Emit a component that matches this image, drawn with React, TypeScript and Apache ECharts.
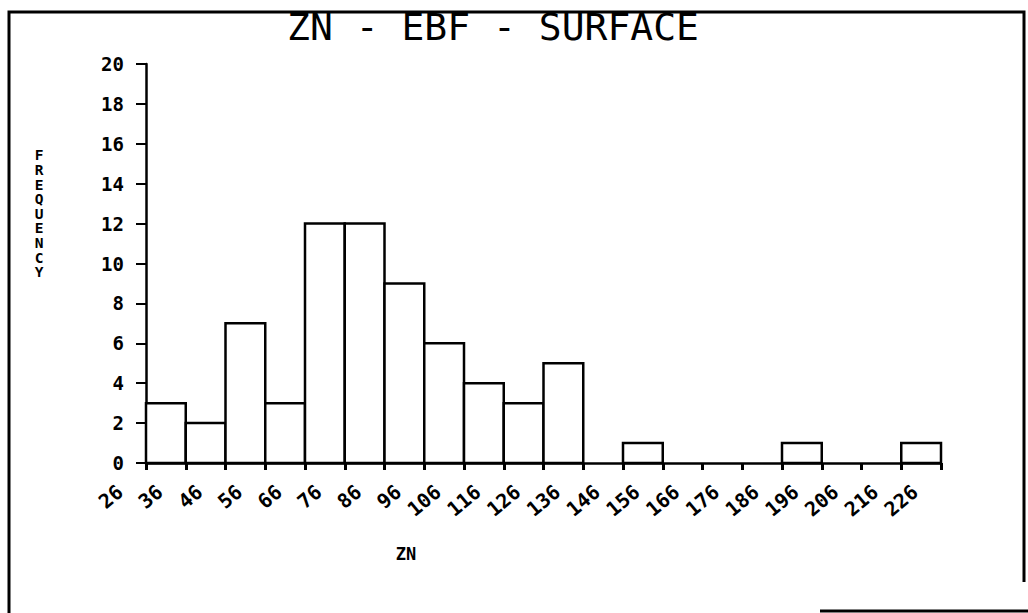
import React, { useEffect, useRef } from "react";
import * as echarts from "echarts";

const titleText = "ZN - EBF - SURFACE";
const yName = "FREQUENCY";
const xName = "ZN";
const binStarts = [26, 36, 46, 56, 66, 76, 86, 96, 106, 116, 126, 136, 146, 156, 166, 176, 186, 196, 206, 216];
const binWidth = 10;
const counts = [3, 2, 7, 3, 12, 12, 9, 6, 4, 3, 5, 0, 1, 0, 0, 0, 1, 0, 0, 1];
const xMin = 26;
const xMax = 226;
const yMax = 20;

const MONO = "'DejaVu Sans Mono', 'Liberation Mono', monospace";

export default function App() {
  const ref = useRef<HTMLDivElement>(null);
  useEffect(() => {
    document.body.style.margin = "0";
    const chart = echarts.init(ref.current!, null, { renderer: "svg" });
    const data = binStarts.map((s, i) => [s, counts[i]]);
    chart.setOption({
      animation: false,
      backgroundColor: "#ffffff",
      title: {
        text: titleText,
        left: 488,
        textAlign: "center",
        top: 3,
        textStyle: { fontFamily: MONO, fontSize: 38, fontWeight: "normal", color: "#000" },
      },
      grid: { left: 146, right: 87, top: 64, bottom: 150, containLabel: false },
      xAxis: {
        type: "value",
        min: xMin,
        max: xMax,
        interval: binWidth,
        splitLine: { show: false },
        axisLine: { show: true, lineStyle: { color: "#000", width: 2.5 } },
        axisTick: { show: true, length: 7, lineStyle: { color: "#000", width: 3 } },
        axisLabel: {
          rotate: 40,
          margin: 4,
          padding: [0, 34, 0, 0],
          fontFamily: MONO,
          fontSize: 20,
          fontWeight: "bold",
          color: "#000",
          showMinLabel: true,
          showMaxLabel: true,
        },
      },
      yAxis: {
        type: "value",
        min: 0,
        max: yMax,
        interval: 2,
        splitLine: { show: false },
        axisLine: { show: true, lineStyle: { color: "#000", width: 2.5 } },
        axisTick: { show: true, length: 10, lineStyle: { color: "#000", width: 2 } },
        axisLabel: {
          margin: 22,
          fontFamily: MONO,
          fontSize: 19,
          fontWeight: "bold",
          color: "#000",
        },
      },
      graphic: [
        {
          type: "polyline",
          shape: { points: [[9, 613], [9, 12], [1024, 12], [1024, 582]] },
          style: { stroke: "#000", lineWidth: 3, fill: "none" },
        },
        {
          type: "line",
          shape: { x1: 820, y1: 611, x2: 1028, y2: 611 },
          style: { stroke: "#000", lineWidth: 3 },
        },
        {
          type: "text",
          x: 39,
          y: 148,
          style: {
            text: yName.split("").join("\n"),
            fontFamily: MONO,
            fontSize: 14.5,
            fontWeight: "bold",
            lineHeight: 14.6,
            fill: "#000",
            align: "center",
          },
        },
        {
          type: "text",
          x: 406,
          y: 545,
          style: {
            text: xName,
            fontFamily: MONO,
            fontSize: 17,
            fontWeight: "bold",
            fill: "#000",
            align: "center",
          },
        },
      ],
      series: [
        {
          type: "custom",
          data,
          renderItem: (params: any, api: any) => {
            const s = api.value(0);
            const c = api.value(1);
            if (!c) return null;
            const p1 = api.coord([s, c]);
            const p2 = api.coord([s + binWidth, 0]);
            return {
              type: "rect",
              shape: { x: p1[0], y: p1[1], width: p2[0] - p1[0], height: p2[1] - p1[1] },
              style: { fill: "#fff", stroke: "#000", lineWidth: 2.5 },
            };
          },
        },
      ],
    });
    return () => chart.dispose();
  }, []);
  return <div ref={ref} style={{ width: 1028, height: 613 }} />;
}
